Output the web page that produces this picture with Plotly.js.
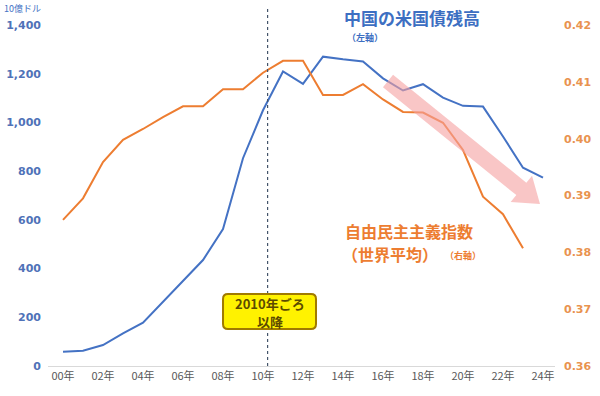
<!DOCTYPE html>
<html><head><meta charset="utf-8">
<script src="https://cdn.plot.ly/plotly-3.0.1.min.js"></script>
<style>body{margin:0;background:#fff}#chart{width:600px;height:396px}</style>
</head><body><div id="chart"></div>
<script>
const years = [2000,2001,2002,2003,2004,2005,2006,2007,2008,2009,2010,2011,2012,2013,2014,2015,2016,2017,2018,2019,2020,2021,2022,2023,2024];
const usTreasury = [58,63,86,134,178,264,350,435,562,853,1050,1209,1158,1270,1259,1250,1181,1131,1157,1102,1068,1065,942,814,773];
const demYears = [2000,2001,2002,2003,2004,2005,2006,2007,2008,2009,2010,2011,2012,2013,2014,2015,2016,2017,2018,2019,2020,2021,2022,2023];
const democracyIndex = [0.3857,0.3895,0.3959,0.3998,0.4017,0.4038,0.4057,0.4057,0.4087,0.4087,0.4116,0.4137,0.4137,0.4077,0.4077,0.4096,0.4069,0.4047,0.4046,0.4028,0.3980,0.3898,0.3867,0.3807];
const tickYears = [2000,2002,2004,2006,2008,2010,2012,2014,2016,2018,2020,2022,2024];
const tickLabels = ['00年','02年','04年','06年','08年','10年','12年','14年','16年','18年','20年','22年','24年'];
const leftTicks = [0,200,400,600,800,1000,1200,1400];
const leftTickLabels = ['0','200','400','600','800','1,000','1,200','1,400'];
const rightTicks = [0.36,0.37,0.38,0.39,0.40,0.41,0.42];
const rightTickLabels = ['0.36','0.37','0.38','0.39','0.40','0.41','0.42'];
const pivotYear = 2010.23;

const W = 600, H = 396, L = 48, R = 45, T = 25, B = 30;
const pw = W - L - R, ph = H - T - B;
const fx = X => (X - L) / pw;
const fy = Y => (H - B - Y) / ph;
const P = (X, Y) => fx(X).toFixed(4) + ',' + fy(Y).toFixed(4);

const BLUE = '#4472C4', ORANGE = '#ED7D31';
const JP = '"Noto Sans CJK JP", "DejaVu Sans", sans-serif';
const NUM = '"DejaVu Sans", sans-serif';

function arrowPath(x0, y0, x1, y1, hw, headLen, headHw) {
  const dx = x1 - x0, dy = y1 - y0, len = Math.hypot(dx, dy);
  const ux = dx / len, uy = dy / len, nx = -uy, ny = ux;
  const bx = x1 - ux * headLen, by = y1 - uy * headLen;
  const pts = [
    [x0 + nx * hw, y0 + ny * hw],
    [bx + nx * hw, by + ny * hw],
    [bx + nx * headHw, by + ny * headHw],
    [x1, y1],
    [bx - nx * headHw, by - ny * headHw],
    [bx - nx * hw, by - ny * hw],
    [x0 - nx * hw, y0 - ny * hw]
  ];
  return 'M ' + pts.map(p => P(p[0], p[1])).join(' L ') + ' Z';
}
function roundRect(x0, y0, x1, y1, r) {
  return 'M ' + P(x0 + r, y0) + ' L ' + P(x1 - r, y0) + ' Q ' + P(x1, y0) + ' ' + P(x1, y0 + r) +
    ' L ' + P(x1, y1 - r) + ' Q ' + P(x1, y1) + ' ' + P(x1 - r, y1) +
    ' L ' + P(x0 + r, y1) + ' Q ' + P(x0, y1) + ' ' + P(x0, y1 - r) +
    ' L ' + P(x0, y0 + r) + ' Q ' + P(x0, y0) + ' ' + P(x0 + r, y0) + ' Z';
}

const tickPos = tickYears.map(y => y - 0.5);

const data = [
  {x: years, y: usTreasury, type: 'scatter', mode: 'lines', line: {color: BLUE, width: 2}, yaxis: 'y', hoverinfo: 'none'},
  {x: demYears, y: democracyIndex, type: 'scatter', mode: 'lines', line: {color: ORANGE, width: 2}, yaxis: 'y2', hoverinfo: 'none'}
];

const ann = (X, Y, text, size, color, anchor) => ({xref: 'paper', yref: 'paper', x: fx(X), y: fy(Y),
  xanchor: anchor || 'center', yanchor: 'middle', showarrow: false, text: text, font: {family: JP, size: size, color: color}});

const layout = {
  width: W, height: H,
  margin: {l: L, r: R, t: T, b: B},
  paper_bgcolor: '#fff', plot_bgcolor: '#fff',
  showlegend: false,
  xaxis: {range: [1999.25, 2024.6], tickvals: tickYears, ticktext: tickLabels, ticks: '', showgrid: false, zeroline: false,
    showline: true, linecolor: '#d9d9d9', linewidth: 1, tickfont: {family: JP, size: 11, color: '#595959'}, fixedrange: true},
  xaxis2: {overlaying: 'x', range: [1999.25, 2024.6], tickvals: tickPos, ticks: 'outside', ticklen: 4, tickcolor: '#d9d9d9',
    showticklabels: false, showgrid: false, zeroline: false, showline: false, side: 'bottom'},
  yaxis: {range: [0, 1400], tickvals: leftTicks, ticktext: leftTickLabels, showgrid: false, zeroline: false, showline: false,
    ticks: '', ticklabelstandoff: 6, tickfont: {family: NUM, size: 11, color: '#4F72B8', weight: 'bold'}},
  yaxis2: {range: [0.36, 0.42], overlaying: 'y', side: 'right', tickvals: rightTicks, ticktext: rightTickLabels,
    showgrid: false, zeroline: false, showline: false, ticks: '', ticklabelstandoff: 8,
    tickfont: {family: NUM, size: 11, color: '#E9934F', weight: 'bold'}},
  shapes: [
    {type: 'line', xref: 'x', yref: 'paper', x0: pivotYear, x1: pivotYear, y0: 0, y1: fy(8),
      line: {color: '#44546A', width: 1.2, dash: 'dot'}},
    {type: 'path', xref: 'paper', yref: 'paper', path: arrowPath(388, 81, 540, 204, 8, 24, 17),
      fillcolor: 'rgba(245,160,160,0.6)', line: {width: 0}, layer: 'above'},
    {type: 'path', xref: 'paper', yref: 'paper', path: roundRect(223, 294, 316, 329, 5),
      fillcolor: '#FFF200', line: {color: '#A07A00', width: 2}, layer: 'above'}
  ],
  annotations: [
    ann(2, 8, '10億ドル', 9, BLUE, 'left'),
    ann(342, 17, '<b>中国の米国債残高</b>', 17, '#3D6FC2', 'left'),
    ann(345, 37.5, '<b>（左軸）</b>', 9, '#3D6FC2', 'left'),
    ann(409, 231, '<b>自由民主主義指数</b>', 16, ORANGE),
    ann(390, 254, '<b>（世界平均）</b>', 16, ORANGE),
    ann(463, 255, '<b>（右軸）</b>', 9, ORANGE),
    ann(269.5, 303, '<b>2010年ごろ</b>', 13, '#5C4A00'),
    ann(269.5, 321, '<b>以降</b>', 13, '#5C4A00')
  ]
};

Plotly.newPlot('chart', data, layout, {staticPlot: true, displayModeBar: false});
</script>
</body></html>
